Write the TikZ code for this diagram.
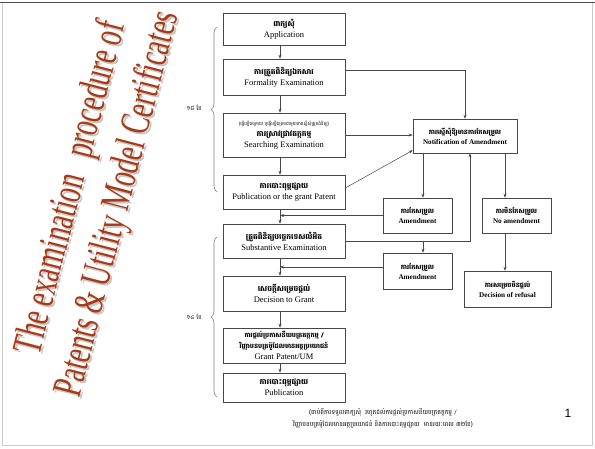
\documentclass[tikz,border=0pt]{standalone}
\usepackage{fontspec}
\setmainfont{Liberation Serif}
\newfontfamily\kh[Script=Khmer]{Battambang}
\newfontfamily\arialf{Liberation Sans}
\usetikzlibrary{arrows.meta,decorations.pathreplacing,calc}
\definecolor{titlered}{RGB}{168,58,22}
\definecolor{linegray}{RGB}{70,70,70}
\newcommand{\KH}[1]{{\kh\bfseries\fontsize{7.5}{11}\selectfont #1}}
\newcommand{\KHs}[1]{{\kh\bfseries\fontsize{6.5}{9}\selectfont #1}}
\begin{document}
\begin{tikzpicture}[x=1pt,y=-1pt,
  box/.style={draw=linegray, line width=0.6pt, fill=white, align=center, inner sep=1pt,
    font=\fontsize{8.5}{11}\selectfont},
  sbox/.style={box, font=\fontsize{7.2}{10}\selectfont\bfseries},
  arr/.style={draw=linegray, line width=0.5pt, -{Stealth[length=4pt,width=3pt]}},
  ln/.style={draw=linegray, line width=0.5pt},
  bracestyle/.style={draw=gray, line width=0.6pt, decorate, decoration={brace, amplitude=6pt}},
  ttl/.style={rotate=75.5, text=titlered, font=\fontsize{42}{48}\selectfont, inner sep=0pt},
  ttlsh/.style={ttl, text=black!22}]
\useasboundingbox (0,0) rectangle (595,448);
\fill[white] (0,0) rectangle (595,448);
\draw[black!20, line width=0.8pt] (2,2) rectangle (592,445);
\draw[black!70, line width=1pt] (0,2) -- (595,2);

% title
\node[ttlsh] (t1s) at (74,190) {\scalebox{0.65}[1]{The examination\hspace{0.7em}procedure of}};
\node[ttl] (t1) at (72,188) {\scalebox{0.65}[1]{The examination\hspace{0.7em}procedure of}};
\node[ttlsh] (t2s) at (121,206) {\scalebox{0.65}[1]{Patents \& Utility Model Certificates}};
\node[ttl] (t2) at (119,204) {\scalebox{0.65}[1]{Patents \& Utility Model Certificates}};

% braces
\draw[bracestyle] (217,192) -- (217,27);
\draw[bracestyle] (217,397) -- (217,237);
\node[font=\kh\fontsize{6}{7}\selectfont] (m1) at (194,108) {១៨ ខែ};
\node[font=\kh\fontsize{6}{7}\selectfont] (m2) at (194,317) {១៤ ខែ};

\coordinate (cx) at (280,0);

% main column
\node[box, minimum width=122pt, minimum height=32pt] (app) at (284,29)
  {\KH{ពាក្យសុំ}\\Application};
\node[box, minimum width=122pt, minimum height=36pt] (form) at (284,77)
  {\KH{ការត្រួតពិនិត្យឯកសារ}\\Formality Examination};
\node[box, minimum width=122pt, minimum height=44pt] (search) at (284,135)
  {{\kh\fontsize{4.5}{7}\selectfont (ធ្វើឡើងក្រោយ ឬធ្វើឡើងព្រមជាមួយការស្នើសុំត្រួតពិនិត្យ)}\\\KH{ការស្រាវជ្រាវតក្កកម្ម}\\Searching Examination};
\node[box, minimum width=122pt, minimum height=34pt] (pubg) at (284,192)
  {\KH{ការបោះពុម្ពផ្សាយ}\\Publication or the grant Patent};
\node[box, minimum width=122pt, minimum height=34pt] (subst) at (284,241)
  {\KH{ត្រួតពិនិត្យបច្ចេកទេសលំអិត}\\Substantive Examination};
\node[box, minimum width=122pt, minimum height=35pt] (dec) at (284,293.5)
  {\KH{សេចក្តីសម្រេចផ្តល់}\\Decision to Grant};
\node[box, minimum width=122pt, minimum height=35pt] (grant) at (284,345.5)
  {\KHs{ការផ្តល់ប្រកាសនីយបត្រតក្កកម្ម /}\\\KHs{វិញ្ញាបនបត្រម៉ូដែលមានអត្ថប្រយោជន៍}\\Grant Patent/UM};
\node[box, minimum width=122pt, minimum height=29pt] (pub) at (284,387.5)
  {\KH{ការបោះពុម្ពផ្សាយ}\\Publication};

% right side
\node[sbox, minimum width=104pt, minimum height=34pt] (notif) at (465,136)
  {\KHs{ការស្នើសុំឱ្យមានការកែសម្រួល}\\Notification of Amendment};
\node[sbox, minimum width=69pt, minimum height=35pt] (am1) at (417.5,215.5)
  {\KHs{ការកែសម្រួល}\\Amendment};
\node[sbox, minimum width=69pt, minimum height=35pt] (noam) at (516.5,215.5)
  {\KHs{ការមិនកែសម្រួល}\\No amendment};
\node[sbox, minimum width=69pt, minimum height=36pt] (am2) at (417.5,271)
  {\KHs{ការកែសម្រួល}\\Amendment};
\node[sbox, minimum width=87pt, minimum height=36pt] (ref) at (507.5,289)
  {\KHs{ការសម្រេចមិនផ្តល់}\\Decision of refusal};

% main column arrows
\draw[arr] (app.south -| cx) -- (form.north -| cx);
\draw[arr] (form.south -| cx) -- (search.north -| cx);
\draw[arr] (search.south -| cx) -- (pubg.north -| cx);
\draw[arr] (pubg.south -| cx) -- (subst.north -| cx);
\draw[arr] (subst.south -| cx) -- (dec.north -| cx);
\draw[arr] (dec.south -| cx) -- (grant.north -| cx);
\draw[arr] (grant.south -| cx) -- (pub.north -| cx);

% to notification
\draw[arr] ([yshift=7pt]form.east) -| (notif.north);
\draw[arr] (search.east) -- (search.east -| notif.west);
\draw[arr] ([yshift=4pt]pubg.east) -- ([yshift=3pt]notif.south west);
\draw[arr] (subst.east) -| ([xshift=5pt]notif.south);

% from notification
\draw[arr] ([xshift=5.5pt]am1.north |- notif.south) -- ([xshift=5.5pt]am1.north);
\draw[arr] ([xshift=-11.5pt]noam.north |- notif.south) -- ([xshift=-11.5pt]noam.north);
\draw[arr] ([xshift=-11.5pt]noam.south) -- ([xshift=-11.5pt]noam.south |- ref.north);
\draw[arr] ([xshift=5.5pt]am2.north |- subst.east) -- ([xshift=5.5pt]am2.north);

% amendments back
\draw[arr] (am1.west) -- (am1.west -| cx);
\draw[arr] ([yshift=4pt]am2.west) -- ([yshift=4pt]am2.west -| cx);

% footnote
\node[font=\kh\fontsize{6.2}{12}\selectfont, align=center] (foot) at (383,418)
  {(ចាប់ពីការទទួលពាក្យសុំ\ \ រហូតដល់ការផ្តល់ប្រកាសនីយបត្រតក្កកម្ម /\\វិញ្ញាបនបត្រម៉ូដែលមានអត្ថប្រយោជន៍ និងការបោះពុម្ពផ្សាយ\ \ មានរយៈពេល ៣២ខែ)};
\node[font=\arialf\fontsize{12}{14}\selectfont] (pg) at (568,413) {1};
\end{tikzpicture}
\end{document}
